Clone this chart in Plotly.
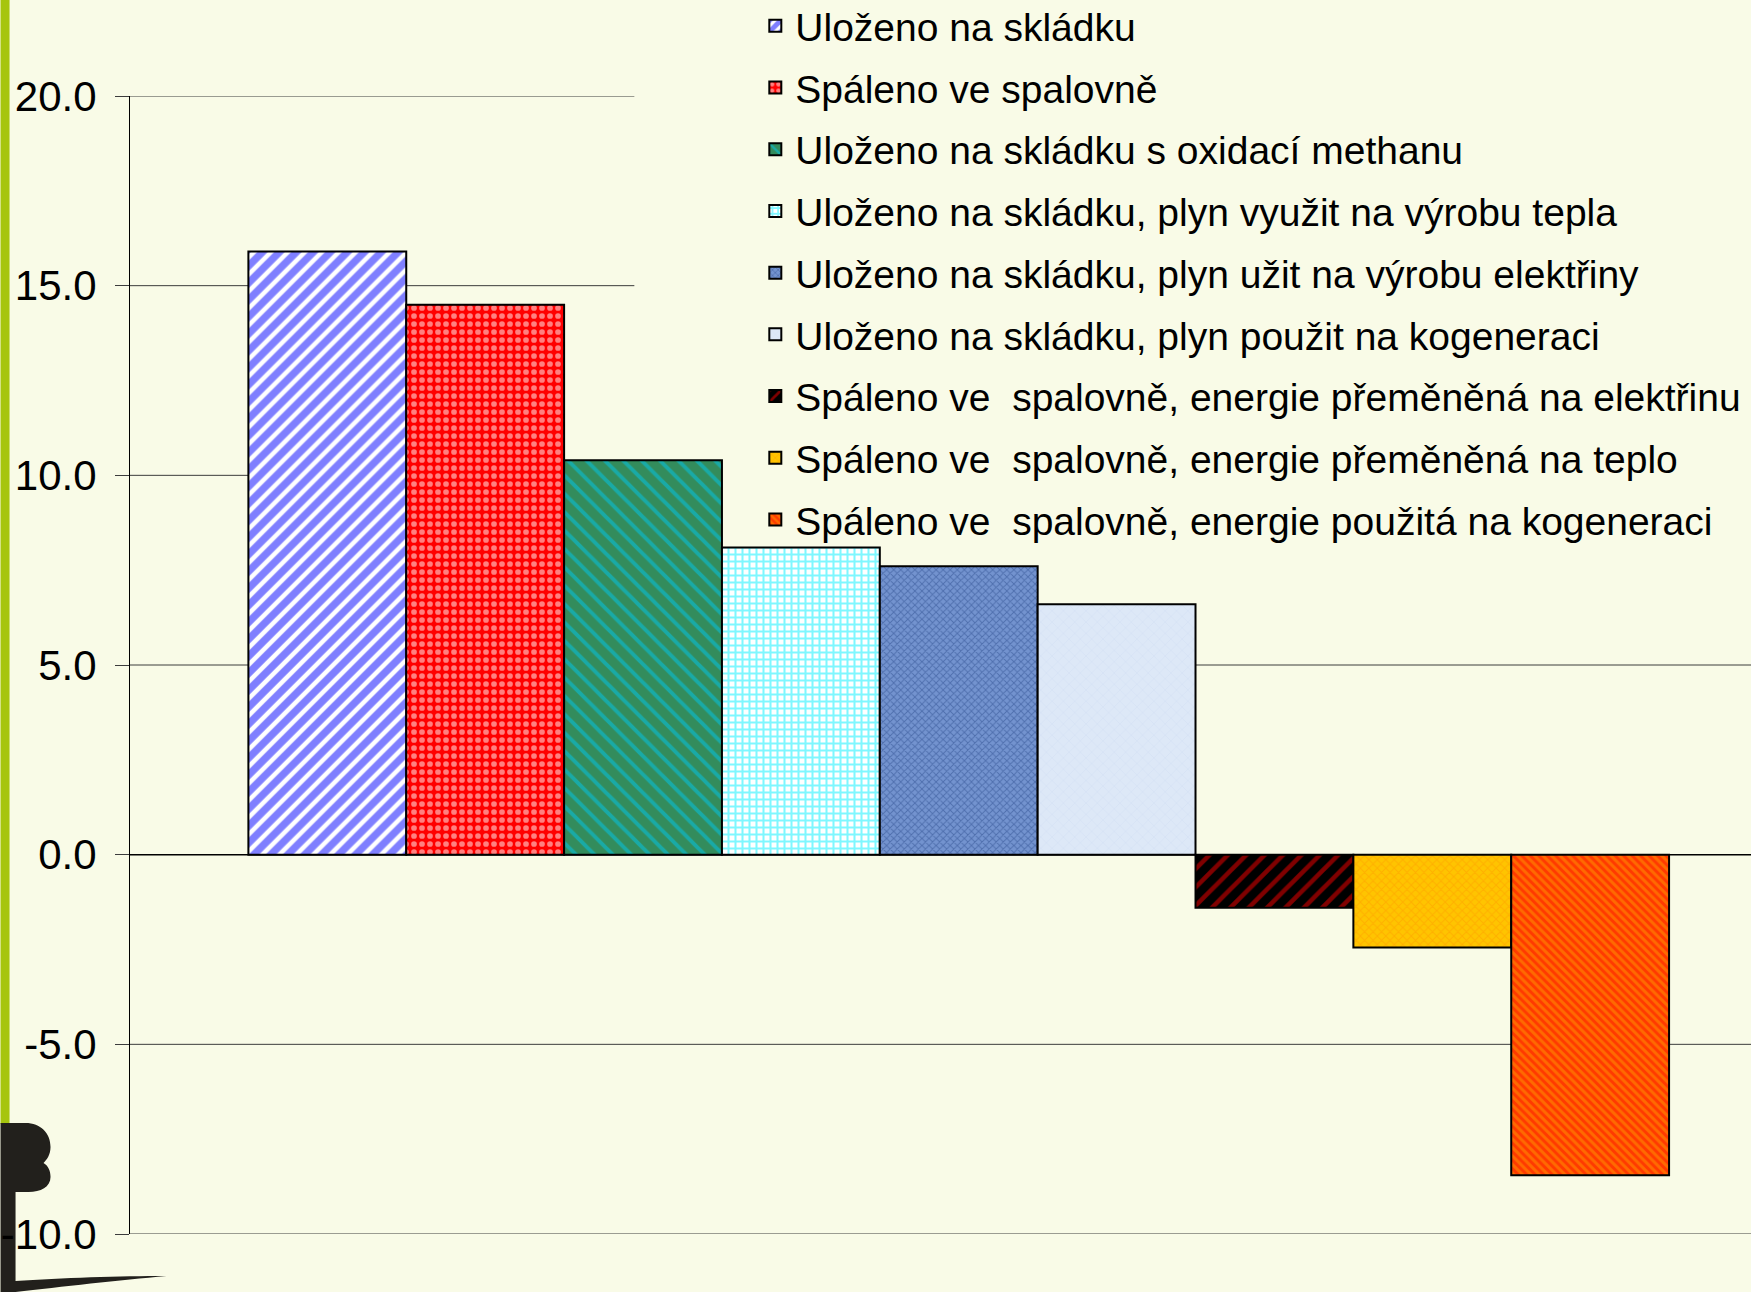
import plotly.graph_objects as go

# ---------------- data ----------------
series_names = [
    "Uloženo na skládku",
    "Spáleno ve spalovně",
    "Uloženo na skládku s oxidací methanu",
    "Uloženo na skládku, plyn využit na výrobu tepla",
    "Uloženo na skládku, plyn užit na výrobu elektřiny",
    "Uloženo na skládku, plyn použit na kogeneraci",
    "Spáleno ve  spalovně, energie přeměněná na elektřinu",
    "Spáleno ve  spalovně, energie přeměněná na teplo",
    "Spáleno ve  spalovně, energie použitá na kogeneraci",
]
series_values = [15.9, 14.5, 10.4, 8.1, 7.6, 6.6, -1.4, -2.45, -8.45]
category = ["A"]
y_ticks = [-10, -5, 0, 5, 10, 15, 20]
y_tick_labels = [f"{v:.1f}" for v in y_ticks]

# ---------------- styles ----------------
patterns = [
    dict(shape="/", bgcolor="#FFFFFF", fgcolor="#0000FF", size=12, solidity=0.62),
    dict(shape=".", bgcolor="#FF0000", fgcolor="#FFFFFF", size=8, solidity=0.4),
    dict(shape="\\", bgcolor="#338C5C", fgcolor="#00C8F0", size=13, solidity=0.3),
    dict(shape="+", bgcolor="#FFFFFF", fgcolor="#00F0FF", size=7, solidity=0.5),
    dict(shape="x", bgcolor="#7393CF", fgcolor="#2B4C8C", size=5, solidity=0.35),
    dict(shape="x", bgcolor="#DDE8F7", fgcolor="#D0DDF0", size=8, solidity=0.2),
    dict(shape="/", bgcolor="#000000", fgcolor="#FF0000", size=13, solidity=0.35),
    dict(shape="x", bgcolor="#FFC400", fgcolor="#FF9C00", size=6, solidity=0.3),
    dict(shape="\\", bgcolor="#FF3A00", fgcolor="#FF9A00", size=6, solidity=0.5),
]
base_colors = ["#FFFFFF", "#FF0000", "#338C5C", "#FFFFFF", "#7393CF",
               "#DDE8F7", "#000000", "#FFC400", "#FF3A00"]

BG = "#F9FBE7"
FONT = "Liberation Sans, Arial, sans-serif"

W, H = 1751, 1292
ML, MR, MT, MB = 129.5, 0, 96, 58
PW, PH = W - ML - MR, H - MT - MB
LEGEND_BOX_LEFT = 634  # px, gridlines under the legend box stop here

def px_x(x):
    return (x - ML) / PW

def px_y(y):
    return (H - MB - y) / PH

fig = go.Figure()
for i, (name, val) in enumerate(zip(series_names, series_values)):
    fig.add_trace(go.Bar(
        x=category, y=[val], name=name,
        legendgroup=f"g{i}",
        marker=dict(color=base_colors[i], pattern=patterns[i],
                    line=dict(color="#000000", width=2)),
        hoverinfo="skip",
    ))

shapes = []
# gridlines (the legend box hides the upper ones on the right)
for v in y_ticks:
    x_end = px_x(LEGEND_BOX_LEFT) if v >= 10 else 1
    shapes.append(dict(type="line", xref="paper", yref="y", layer="below",
                       x0=0, x1=x_end, y0=v, y1=v,
                       line=dict(color="#000000" if v == 0 else "#3C3C3C",
                                 width=1.5 if v == 0 else 1)))

# green left stripe
shapes.append(dict(type="rect", xref="paper", yref="paper", layer="below",
                   x0=px_x(0), x1=px_x(9), y0=px_y(1124), y1=px_y(0),
                   fillcolor="#A6C50E", line=dict(width=0)))

tree_pts = [
    ("M", 0, 1123), ("L", 25, 1123),
    ("C", 40, 1123, 50, 1133, 50, 1147),
    ("C", 50, 1155, 46, 1160, 43, 1163),
    ("C", 48, 1166, 50, 1171, 50, 1177),
    ("C", 50, 1187, 40, 1192, 28, 1192),
    ("L", 15, 1192), ("L", 15, 1281),
    ("C", 60, 1278, 120, 1276, 166, 1276),
    ("C", 120, 1280, 60, 1287, 15, 1292),
    ("L", 0, 1292),
]
path = ""
for p in tree_pts:
    cmd = p[0]
    coords = p[1:]
    parts = []
    for k in range(0, len(coords), 2):
        parts.append(f"{px_x(coords[k]):.5f},{px_y(coords[k+1]):.5f}")
    path += cmd + " ".join(parts) + " "
path += "Z"
shapes.append(dict(type="path", xref="paper", yref="paper", layer="below",
                   path=path, fillcolor="#22201C", line=dict(width=0)))

fig.update_layout(
    width=W, height=H, autosize=False,
    margin=dict(l=ML, r=MR, t=MT, b=MB, autoexpand=False),
    paper_bgcolor=BG, plot_bgcolor="rgba(0,0,0,0)",
    font=dict(family=FONT, color="#000000"),
    barmode="group", bargap=1.5 / 10.5, bargroupgap=0,
    showlegend=True,
    legend=dict(
        x=px_x(755), y=px_y(-6), xanchor="left", yanchor="top",
        bgcolor="rgba(0,0,0,0)", borderwidth=0,
        font=dict(size=39, family=FONT, color="#000000"),
        tracegroupgap=8, traceorder="grouped",
    ),
    xaxis=dict(range=[-0.5, 0.478], showticklabels=False, showgrid=False,
               zeroline=False, showline=False, ticks=""),
    yaxis=dict(range=[-10, 20], tickvals=y_ticks, ticktext=y_tick_labels,
               showgrid=False, zeroline=False,
               showline=True, linecolor="#000000", linewidth=1,
               ticks="outside", ticklen=14, tickcolor="#3C3C3C",
               ticklabelstandoff=10,
               tickfont=dict(size=42, family=FONT, color="#000000")),
    shapes=shapes,
)

fig.write_html("out.html", config={"displayModeBar": False},
               post_script="document.body.style.margin='0px';")
